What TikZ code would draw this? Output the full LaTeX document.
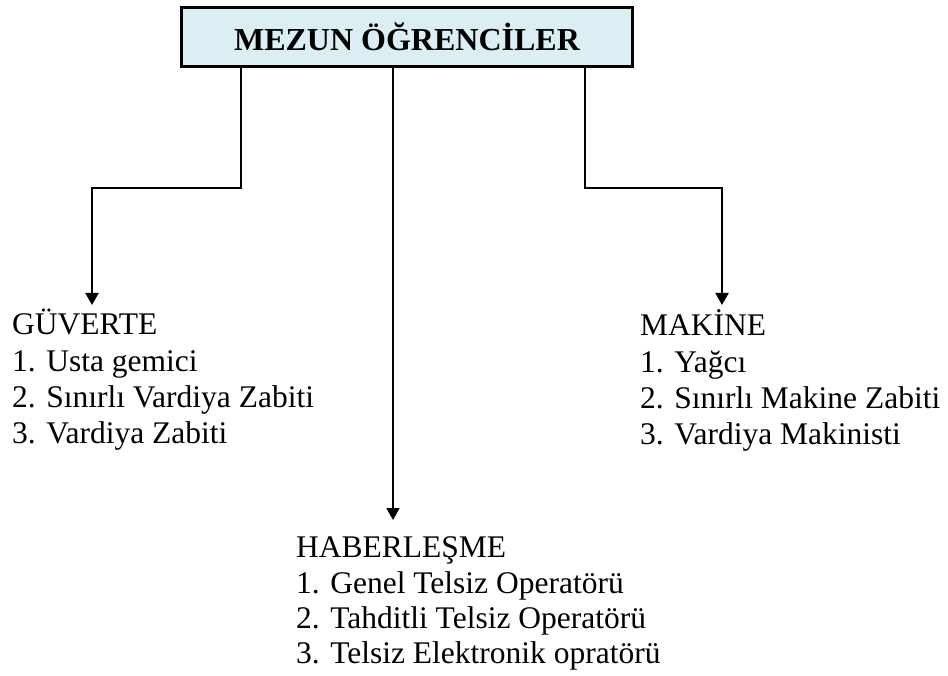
\documentclass[tikz,border=0pt]{standalone}
\usepackage{fontspec}
\setmainfont{Liberation Serif}
\usetikzlibrary{arrows.meta}
\definecolor{boxblue}{RGB}{219,238,243}
\tikzset{
  titlebox/.style={draw=black, line width=3pt, fill=boxblue, inner sep=0pt,
    minimum width=451pt, minimum height=59pt, font=\fontsize{32}{37}\selectfont\bfseries},
  itemtext/.style={anchor=base west, inner sep=0pt, font=\fontsize{31.5}{36}\selectfont},
  conn/.style={line width=2pt, -{Triangle[width=13pt,length=12pt]}}
}
\begin{document}
\begin{tikzpicture}[x=1pt,y=-1pt]
\useasboundingbox (0,0) rectangle (948,676);
\node[titlebox] (box) at (407,37) {MEZUN ÖĞRENCİLER};

% left block
\node[itemtext] (g0) at (12,335) {GÜVERTE};
\node[itemtext] (g1) at (12,371) {1. Usta gemici};
\node[itemtext] (g2) at (12,407) {2. Sınırlı Vardiya Zabiti};
\node[itemtext] (g3) at (12,443) {3. Vardiya Zabiti};

% right block
\node[itemtext] (m0) at (640,336) {MAKİNE};
\node[itemtext] (m1) at (640,372) {1. Yağcı};
\node[itemtext] (m2) at (640,408) {2. Sınırlı Makine Zabiti};
\node[itemtext] (m3) at (640,444) {3. Vardiya Makinisti};

% middle block
\node[itemtext] (h0) at (296,557) {HABERLEŞME};
\node[itemtext] (h1) at (296,593) {1. Genel Telsiz Operatörü};
\node[itemtext] (h2) at (296,628) {2. Tahditli Telsiz Operatörü};
\node[itemtext] (h3) at (296,663) {3. Telsiz Elektronik opratörü};

% connector points
\coordinate (ls) at (241,67);
\coordinate (lb) at (241,188);
\coordinate (lt) at (92,305);
\coordinate (rs) at (585,67);
\coordinate (rb) at (585,188);
\coordinate (rt) at (722,305);
\coordinate (ms) at (393,67);
\coordinate (mt) at (393,520);

\draw[conn] (ls) -- (lb) -| (lt);
\draw[conn] (rs) -- (rb) -| (rt);
\draw[conn] (ms) -- (mt);
\end{tikzpicture}
\end{document}
